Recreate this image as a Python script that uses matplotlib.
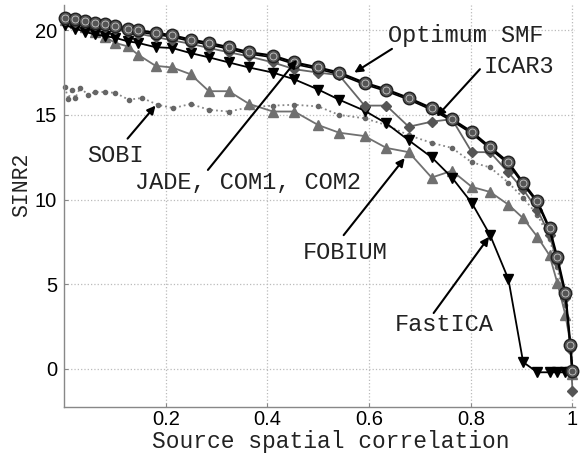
import matplotlib
matplotlib.use("Agg")
import matplotlib.pyplot as plt

# correlation values where the methods were evaluated
corr = [0.002, 0.022, 0.042, 0.061, 0.081, 0.101, 0.125, 0.146, 0.180, 0.213,
        0.249, 0.285, 0.324, 0.364, 0.411, 0.453, 0.500, 0.541, 0.591, 0.634,
        0.678, 0.723, 0.763, 0.802, 0.838, 0.874, 0.903, 0.931, 0.955, 0.970,
        0.986, 0.996, 1.000]

optimum = [20.75, 20.65, 20.55, 20.45, 20.35, 20.25, 20.1, 20.0, 19.85, 19.7,
           19.45, 19.25, 19.0, 18.7, 18.5, 18.1, 17.8, 17.5, 16.9, 16.5,
           16.0, 15.4, 14.75, 14.0, 13.1, 12.2, 11.0, 9.9, 8.3, 6.6,
           4.5, 1.4, -0.1]

jade = [20.65, 20.55, 20.45, 20.35, 20.25, 20.15, 20.0, 19.9, 19.75, 19.6,
        19.35, 19.15, 18.9, 18.6, 18.4, 18.0, 17.7, 17.4, 16.8, 16.4,
        15.9, 15.3, 14.65, 13.9, 13.0, 12.1, 10.9, 9.8, 8.2, 6.5,
        4.4, 1.3, -0.2]

icar3 = [20.6, 20.5, 20.4, 20.3, 20.2, 20.05, 19.9, 19.8, 19.6, 19.4,
         19.2, 18.95, 18.7, 18.45, 18.1, 17.7, 17.5, 17.35, 15.55, 15.55,
         14.3, 14.6, 14.75, 12.8, 12.8, 11.6, 10.6, 9.4, 7.9, 6.3,
         4.2, 1.2, -1.3]

fastica = [20.3, 20.1, 19.9, 19.75, 19.65, 19.55, 19.35, 19.25, 19.0, 18.95,
           18.65, 18.4, 18.1, 17.8, 17.5, 17.1, 16.5, 15.9, 15.25, 14.5,
           13.5, 12.5, 11.3, 9.8, 7.9, 5.3, 0.4, -0.2, -0.2, -0.2,
           -0.2, -0.2, -0.2]

fobium = [20.6, 20.4, 20.2, 19.9, 19.6, 19.25, 19.05, 18.55, 17.9, 17.8,
          17.4, 16.4, 16.4, 15.65, 15.2, 15.2, 14.4, 13.95, 13.75, 13.05,
          12.8, 11.3, 11.7, 10.75, 10.45, 9.7, 8.9, 7.8, 6.7, 5.1,
          3.2, 1.5, -0.3]

sobi_corr = [0.002, 0.008, 0.016, 0.022, 0.032, 0.047, 0.061, 0.081, 0.101, 0.127,
             0.154, 0.184, 0.215, 0.249, 0.285, 0.324, 0.364, 0.411, 0.453, 0.500,
             0.541, 0.591, 0.634, 0.678, 0.723, 0.763, 0.802, 0.838, 0.874, 0.903,
             0.931, 0.955, 0.970, 0.986, 0.996, 1.000]
sobi = [16.65, 15.95, 16.5, 16.0, 16.6, 16.2, 16.35, 16.35, 16.3, 15.9,
        16.0, 15.6, 15.4, 15.65, 15.3, 15.2, 15.45, 15.55, 15.6, 15.5,
        15.0, 14.8, 14.4, 13.8, 13.35, 13.05, 12.2, 11.9, 11.0, 10.1,
        9.1, 7.7, 6.0, 3.8, 1.2, -0.3]

xticks = [0.2, 0.4, 0.6, 0.8, 1.0]
xtick_labels = ["0.2", "0.4", "0.6", "0.8", "1"]
yticks = [0, 5, 10, 15, 20]

MONO = "Liberation Mono"
SANS = "Liberation Sans"

fig = plt.figure(figsize=(5.84, 4.57), dpi=100)
ax = fig.add_axes([0.1096, 0.1094, 0.875, 0.880])

ax.plot(sobi_corr, sobi, linestyle=":", color="#888888", lw=1.3,
        marker=".", markersize=6, markerfacecolor="#666666",
        markeredgecolor="#666666", clip_on=False, zorder=2)
ax.plot(corr, fobium, color="#707070", lw=1.3, marker="^", markersize=7,
        markerfacecolor="#707070", markeredgecolor="#707070",
        clip_on=False, zorder=3)
ax.plot(corr, fastica, color="black", lw=1.3, marker="v", markersize=7,
        markerfacecolor="black", markeredgecolor="black",
        clip_on=False, zorder=4)
ax.plot(corr, icar3, color="#666666", lw=1.3, marker="D", markersize=5,
        markerfacecolor="#555555", markeredgecolor="#555555",
        clip_on=False, zorder=5)
ax.plot(corr, jade, color="black", lw=1.2, marker="v", markersize=5,
        markerfacecolor="black", markeredgecolor="black",
        clip_on=False, zorder=6)
ax.plot(corr, optimum, color="black", lw=1.6, marker="o", markersize=9,
        markerfacecolor="#555555", markeredgecolor="#222222",
        markeredgewidth=1.0, clip_on=False, zorder=7)
# dotted inner ring of the optimum markers
ax.plot(corr, optimum, linestyle="none", marker="o", markersize=5,
        markerfacecolor="none", markeredgecolor="#c8c8c8",
        markeredgewidth=0.6, clip_on=False, zorder=8)

ax.set_xlim(0, 1.005)
ax.set_ylim(-2.25, 21.5)
ax.set_xticks(xticks)
ax.set_xticklabels(xtick_labels)
ax.set_yticks(yticks)

for lab in ax.get_xticklabels() + ax.get_yticklabels():
    lab.set_fontfamily(SANS)
    lab.set_fontsize(14.5)

ax.tick_params(direction="in", length=3, color="#888888")
ax.tick_params(axis="x", pad=2)
ax.tick_params(axis="y", pad=5)
ax.grid(True, linestyle=":", color="#bbbbbb", lw=0.9)
ax.set_axisbelow(True)

for side in ["top", "right"]:
    ax.spines[side].set_visible(False)
for side in ["left", "bottom"]:
    ax.spines[side].set_color("#888888")
    ax.spines[side].set_linewidth(1.0)

ax.set_xlabel("Source spatial correlation", fontfamily=MONO, fontsize=16.5,
              color="#222222")
ax.xaxis.set_label_coords(0.522, -0.057)
ax.set_ylabel("SINR2", fontfamily=MONO, fontsize=15.5, color="#222222")
ax.yaxis.set_label_coords(-0.062, 0.552)

# labels with arrows: (text, text pos, arrow start, arrow tip)
notes = [
    ("Optimum SMF", (0.638, 19.7), (0.645, 18.9), (0.571, 17.5)),
    ("ICAR3", (0.826, 17.85), (0.818, 17.7), (0.733, 14.9)),
    ("SOBI", (0.045, 12.6), (0.125, 13.6), (0.180, 15.55)),
    ("JADE, COM1, COM2", (0.140, 11.0), (0.283, 11.75), (0.458, 18.25)),
    ("FOBIUM", (0.470, 6.85), (0.550, 7.9), (0.670, 12.45)),
    ("FastICA", (0.650, 2.6), (0.727, 3.3), (0.836, 7.8)),
]
for txt, tpos, start, tip in notes:
    ax.annotate("", xy=tip, xytext=start,
                arrowprops=dict(arrowstyle="-|>", color="black", lw=1.5,
                                mutation_scale=12, shrinkA=0, shrinkB=0),
                zorder=9)
    ax.text(tpos[0], tpos[1], txt, fontfamily=MONO, fontsize=17,
            ha="left", va="center", color="#222222", zorder=10)

fig.savefig("out.png", dpi=100)
